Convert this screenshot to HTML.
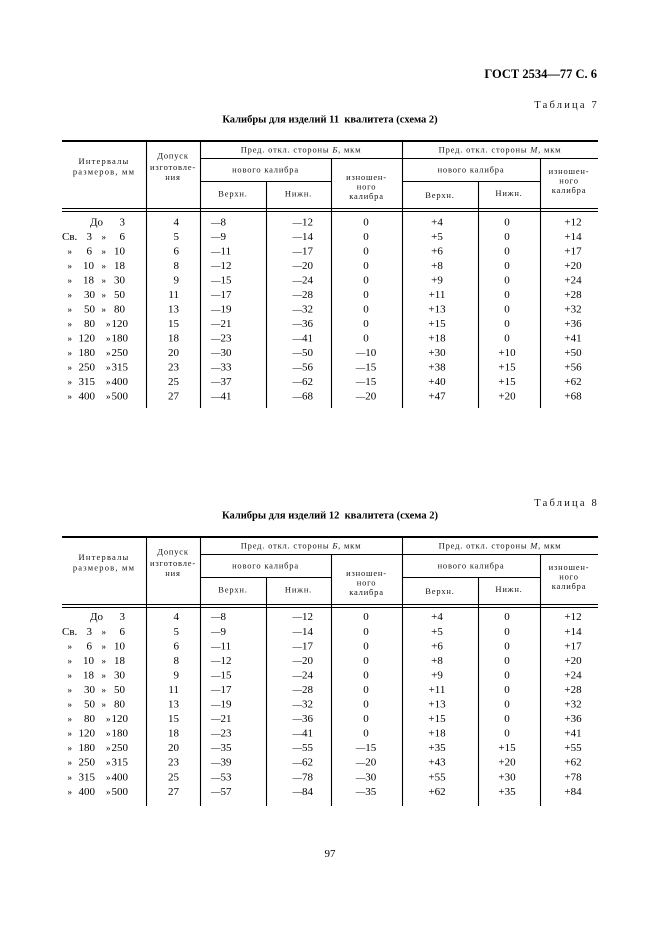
<!DOCTYPE html>
<html><head><meta charset="utf-8">
<style>
html,body{margin:0;padding:0;background:#fff;}
svg{display:block;}
.b text{font-family:"Liberation Serif",serif;font-size:11px;fill:#000;}
.e{text-anchor:end;}
.m{text-anchor:middle;}
.r{font-size:9px !important;}
.d{font-size:9.5px;}
.h{font-family:"Liberation Serif",serif;font-size:8.5px;letter-spacing:0.8px;fill:#111;text-anchor:middle;}
.hw{letter-spacing:1.2px;}
.t{font-family:"Liberation Serif",serif;font-weight:bold;fill:#000;}
.tb{font-family:"Liberation Serif",serif;font-size:10.5px;letter-spacing:2.2px;fill:#111;text-anchor:end;}
.ln{stroke:#000;fill:none;}
</style></head>
<body>
<svg width="661" height="936" viewBox="0 0 661 936" xmlns="http://www.w3.org/2000/svg">
<rect width="661" height="936" fill="#fff"/>

<text class="t" x="597" y="78" font-size="12.5" text-anchor="end">ГОСТ 2534—77 С. 6</text>

<!-- TABLE 7 -->
<text class="tb" x="599" y="108">Таблица 7</text>
<text class="t" x="330" y="122.5" font-size="10.5" text-anchor="middle" xml:space="preserve">Калибры для изделий 11  квалитета (схема 2)</text>

<path class="ln" d="M62 141H598" stroke-width="2"/>
<path class="ln" d="M200 158.5H598M200 181.5H331M402 181.5H540M62 208.5H598M62 211.5H598" stroke-width="1"/>
<path class="ln" d="M146.5 141V408M200.5 141V408M402.5 141V408M331.5 158V408M540.5 158V408M266.5 181V408M478.5 181V408" stroke-width="1.1"/>

<text class="h hw" x="104" y="164">Интервалы</text>
<text class="h hw" x="104" y="174.5">размеров, мм</text>
<text class="h" x="173" y="158.5">Допуск</text>
<text class="h" x="173" y="170">изготовле-</text>
<text class="h" x="173" y="180">ния</text>
<text class="h" x="301" y="152.5">Пред. откл. стороны <tspan font-style="italic">Б</tspan>, мкм</text>
<text class="h" x="265.5" y="172.5">нового калибра</text>
<text class="h" x="233" y="196.5">Верхн.</text>
<text class="h" x="298.5" y="196.5">Нижн.</text>
<text class="h" x="366.5" y="180">изношен-</text>
<text class="h" x="366.5" y="189.5">ного</text>
<text class="h" x="366.5" y="199">калибра</text>
<text class="h" x="500" y="152.5">Пред. откл. стороны <tspan font-style="italic">М</tspan>, мкм</text>
<text class="h" x="471" y="172.5">нового калибра</text>
<text class="h" x="440" y="198">Верхн.</text>
<text class="h" x="509" y="196">Нижн.</text>
<text class="h" x="569" y="174">изношен-</text>
<text class="h" x="569" y="183.5">ного</text>
<text class="h" x="569" y="193">калибра</text>

<g class="b">
<g transform="translate(0,225.7)"><text x="90">До</text><text class="e" x="125">3</text><text class="e" x="179">4</text><text x="211"><tspan class="d">—</tspan>8</text><text class="e" x="313"><tspan class="d">—</tspan>12</text><text class="m" x="366">0</text><text class="m" x="437">+4</text><text class="m" x="507">0</text><text class="m" x="573">+12</text></g>
<g transform="translate(0,240.2)"><text x="62">Св.</text><text class="e" x="92">3</text><text class="r" x="101.5">»</text><text class="e" x="125">6</text><text class="e" x="179">5</text><text x="211"><tspan class="d">—</tspan>9</text><text class="e" x="313"><tspan class="d">—</tspan>14</text><text class="m" x="366">0</text><text class="m" x="437">+5</text><text class="m" x="507">0</text><text class="m" x="573">+14</text></g>
<g transform="translate(0,254.7)"><text class="r" x="67.5">»</text><text class="e" x="92">6</text><text class="r" x="101.5">»</text><text class="e" x="125">10</text><text class="e" x="179">6</text><text x="211"><tspan class="d">—</tspan>11</text><text class="e" x="313"><tspan class="d">—</tspan>17</text><text class="m" x="366">0</text><text class="m" x="437">+6</text><text class="m" x="507">0</text><text class="m" x="573">+17</text></g>
<g transform="translate(0,269.2)"><text class="r" x="67.5">»</text><text class="e" x="94">10</text><text class="r" x="101.5">»</text><text class="e" x="125">18</text><text class="e" x="179">8</text><text x="211"><tspan class="d">—</tspan>12</text><text class="e" x="313"><tspan class="d">—</tspan>20</text><text class="m" x="366">0</text><text class="m" x="437">+8</text><text class="m" x="507">0</text><text class="m" x="573">+20</text></g>
<g transform="translate(0,283.7)"><text class="r" x="67.5">»</text><text class="e" x="94">18</text><text class="r" x="101.5">»</text><text class="e" x="125">30</text><text class="e" x="179">9</text><text x="211"><tspan class="d">—</tspan>15</text><text class="e" x="313"><tspan class="d">—</tspan>24</text><text class="m" x="366">0</text><text class="m" x="437">+9</text><text class="m" x="507">0</text><text class="m" x="573">+24</text></g>
<g transform="translate(0,298.2)"><text class="r" x="67.5">»</text><text class="e" x="95">30</text><text class="r" x="101.5">»</text><text class="e" x="125">50</text><text class="e" x="179">11</text><text x="211"><tspan class="d">—</tspan>17</text><text class="e" x="313"><tspan class="d">—</tspan>28</text><text class="m" x="366">0</text><text class="m" x="437">+11</text><text class="m" x="507">0</text><text class="m" x="573">+28</text></g>
<g transform="translate(0,312.7)"><text class="r" x="67.5">»</text><text class="e" x="95">50</text><text class="r" x="101.5">»</text><text class="e" x="125">80</text><text class="e" x="179">13</text><text x="211"><tspan class="d">—</tspan>19</text><text class="e" x="313"><tspan class="d">—</tspan>32</text><text class="m" x="366">0</text><text class="m" x="437">+13</text><text class="m" x="507">0</text><text class="m" x="573">+32</text></g>
<g transform="translate(0,327.2)"><text class="r" x="67.5">»</text><text class="e" x="95">80</text><text class="r" x="106">»</text><text class="e" x="128">120</text><text class="e" x="179">15</text><text x="211"><tspan class="d">—</tspan>21</text><text class="e" x="313"><tspan class="d">—</tspan>36</text><text class="m" x="366">0</text><text class="m" x="437">+15</text><text class="m" x="507">0</text><text class="m" x="573">+36</text></g>
<g transform="translate(0,341.7)"><text class="r" x="67.5">»</text><text class="e" x="95">120</text><text class="r" x="106">»</text><text class="e" x="128">180</text><text class="e" x="179">18</text><text x="211"><tspan class="d">—</tspan>23</text><text class="e" x="313"><tspan class="d">—</tspan>41</text><text class="m" x="366">0</text><text class="m" x="437">+18</text><text class="m" x="507">0</text><text class="m" x="573">+41</text></g>
<g transform="translate(0,356.2)"><text class="r" x="67.5">»</text><text class="e" x="95">180</text><text class="r" x="106">»</text><text class="e" x="128">250</text><text class="e" x="179">20</text><text x="211"><tspan class="d">—</tspan>30</text><text class="e" x="313"><tspan class="d">—</tspan>50</text><text class="m" x="366"><tspan class="d">—</tspan>10</text><text class="m" x="437">+30</text><text class="m" x="507">+10</text><text class="m" x="573">+50</text></g>
<g transform="translate(0,370.7)"><text class="r" x="67.5">»</text><text class="e" x="95">250</text><text class="r" x="106">»</text><text class="e" x="128">315</text><text class="e" x="179">23</text><text x="211"><tspan class="d">—</tspan>33</text><text class="e" x="313"><tspan class="d">—</tspan>56</text><text class="m" x="366"><tspan class="d">—</tspan>15</text><text class="m" x="437">+38</text><text class="m" x="507">+15</text><text class="m" x="573">+56</text></g>
<g transform="translate(0,385.2)"><text class="r" x="67.5">»</text><text class="e" x="95">315</text><text class="r" x="106">»</text><text class="e" x="128">400</text><text class="e" x="179">25</text><text x="211"><tspan class="d">—</tspan>37</text><text class="e" x="313"><tspan class="d">—</tspan>62</text><text class="m" x="366"><tspan class="d">—</tspan>15</text><text class="m" x="437">+40</text><text class="m" x="507">+15</text><text class="m" x="573">+62</text></g>
<g transform="translate(0,399.7)"><text class="r" x="67.5">»</text><text class="e" x="95">400</text><text class="r" x="106">»</text><text class="e" x="128">500</text><text class="e" x="179">27</text><text x="211"><tspan class="d">—</tspan>41</text><text class="e" x="313"><tspan class="d">—</tspan>68</text><text class="m" x="366"><tspan class="d">—</tspan>20</text><text class="m" x="437">+47</text><text class="m" x="507">+20</text><text class="m" x="573">+68</text></g>
</g>

<!-- TABLE 8 -->
<text class="tb" x="599" y="506">Таблица 8</text>
<text class="t" x="330" y="518.5" font-size="10.5" text-anchor="middle" xml:space="preserve">Калибры для изделий 12  квалитета (схема 2)</text>

<path class="ln" d="M62 537H598" stroke-width="2"/>
<path class="ln" d="M200 554.5H598M200 577.5H331M402 577.5H540M62 604.5H598M62 607.5H598" stroke-width="1"/>
<path class="ln" d="M146.5 537V806M200.5 537V806M402.5 537V806M331.5 554V806M540.5 554V806M266.5 577V806M478.5 577V806" stroke-width="1.1"/>

<text class="h hw" x="104" y="560">Интервалы</text>
<text class="h hw" x="104" y="570.5">размеров, мм</text>
<text class="h" x="173" y="554.5">Допуск</text>
<text class="h" x="173" y="566">изготовле-</text>
<text class="h" x="173" y="576">ния</text>
<text class="h" x="301" y="548.5">Пред. откл. стороны <tspan font-style="italic">Б</tspan>, мкм</text>
<text class="h" x="265.5" y="568.5">нового калибра</text>
<text class="h" x="233" y="592.5">Верхн.</text>
<text class="h" x="298.5" y="592.5">Нижн.</text>
<text class="h" x="366.5" y="576">изношен-</text>
<text class="h" x="366.5" y="585.5">ного</text>
<text class="h" x="366.5" y="595">калибра</text>
<text class="h" x="500" y="548.5">Пред. откл. стороны <tspan font-style="italic">М</tspan>, мкм</text>
<text class="h" x="471" y="568.5">нового калибра</text>
<text class="h" x="440" y="594">Верхн.</text>
<text class="h" x="509" y="592">Нижн.</text>
<text class="h" x="569" y="570">изношен-</text>
<text class="h" x="569" y="579.5">ного</text>
<text class="h" x="569" y="589">калибра</text>

<g class="b">
<g transform="translate(0,620.2)"><text x="90">До</text><text class="e" x="125">3</text><text class="e" x="179">4</text><text x="211"><tspan class="d">—</tspan>8</text><text class="e" x="313"><tspan class="d">—</tspan>12</text><text class="m" x="366">0</text><text class="m" x="437">+4</text><text class="m" x="507">0</text><text class="m" x="573">+12</text></g>
<g transform="translate(0,634.75)"><text x="62">Св.</text><text class="e" x="92">3</text><text class="r" x="101.5">»</text><text class="e" x="125">6</text><text class="e" x="179">5</text><text x="211"><tspan class="d">—</tspan>9</text><text class="e" x="313"><tspan class="d">—</tspan>14</text><text class="m" x="366">0</text><text class="m" x="437">+5</text><text class="m" x="507">0</text><text class="m" x="573">+14</text></g>
<g transform="translate(0,649.3)"><text class="r" x="67.5">»</text><text class="e" x="92">6</text><text class="r" x="101.5">»</text><text class="e" x="125">10</text><text class="e" x="179">6</text><text x="211"><tspan class="d">—</tspan>11</text><text class="e" x="313"><tspan class="d">—</tspan>17</text><text class="m" x="366">0</text><text class="m" x="437">+6</text><text class="m" x="507">0</text><text class="m" x="573">+17</text></g>
<g transform="translate(0,663.85)"><text class="r" x="67.5">»</text><text class="e" x="94">10</text><text class="r" x="101.5">»</text><text class="e" x="125">18</text><text class="e" x="179">8</text><text x="211"><tspan class="d">—</tspan>12</text><text class="e" x="313"><tspan class="d">—</tspan>20</text><text class="m" x="366">0</text><text class="m" x="437">+8</text><text class="m" x="507">0</text><text class="m" x="573">+20</text></g>
<g transform="translate(0,678.4)"><text class="r" x="67.5">»</text><text class="e" x="94">18</text><text class="r" x="101.5">»</text><text class="e" x="125">30</text><text class="e" x="179">9</text><text x="211"><tspan class="d">—</tspan>15</text><text class="e" x="313"><tspan class="d">—</tspan>24</text><text class="m" x="366">0</text><text class="m" x="437">+9</text><text class="m" x="507">0</text><text class="m" x="573">+24</text></g>
<g transform="translate(0,692.95)"><text class="r" x="67.5">»</text><text class="e" x="95">30</text><text class="r" x="101.5">»</text><text class="e" x="125">50</text><text class="e" x="179">11</text><text x="211"><tspan class="d">—</tspan>17</text><text class="e" x="313"><tspan class="d">—</tspan>28</text><text class="m" x="366">0</text><text class="m" x="437">+11</text><text class="m" x="507">0</text><text class="m" x="573">+28</text></g>
<g transform="translate(0,707.5)"><text class="r" x="67.5">»</text><text class="e" x="95">50</text><text class="r" x="101.5">»</text><text class="e" x="125">80</text><text class="e" x="179">13</text><text x="211"><tspan class="d">—</tspan>19</text><text class="e" x="313"><tspan class="d">—</tspan>32</text><text class="m" x="366">0</text><text class="m" x="437">+13</text><text class="m" x="507">0</text><text class="m" x="573">+32</text></g>
<g transform="translate(0,722.05)"><text class="r" x="67.5">»</text><text class="e" x="95">80</text><text class="r" x="106">»</text><text class="e" x="128">120</text><text class="e" x="179">15</text><text x="211"><tspan class="d">—</tspan>21</text><text class="e" x="313"><tspan class="d">—</tspan>36</text><text class="m" x="366">0</text><text class="m" x="437">+15</text><text class="m" x="507">0</text><text class="m" x="573">+36</text></g>
<g transform="translate(0,736.6)"><text class="r" x="67.5">»</text><text class="e" x="95">120</text><text class="r" x="106">»</text><text class="e" x="128">180</text><text class="e" x="179">18</text><text x="211"><tspan class="d">—</tspan>23</text><text class="e" x="313"><tspan class="d">—</tspan>41</text><text class="m" x="366">0</text><text class="m" x="437">+18</text><text class="m" x="507">0</text><text class="m" x="573">+41</text></g>
<g transform="translate(0,751.15)"><text class="r" x="67.5">»</text><text class="e" x="95">180</text><text class="r" x="106">»</text><text class="e" x="128">250</text><text class="e" x="179">20</text><text x="211"><tspan class="d">—</tspan>35</text><text class="e" x="313"><tspan class="d">—</tspan>55</text><text class="m" x="366"><tspan class="d">—</tspan>15</text><text class="m" x="437">+35</text><text class="m" x="507">+15</text><text class="m" x="573">+55</text></g>
<g transform="translate(0,765.7)"><text class="r" x="67.5">»</text><text class="e" x="95">250</text><text class="r" x="106">»</text><text class="e" x="128">315</text><text class="e" x="179">23</text><text x="211"><tspan class="d">—</tspan>39</text><text class="e" x="313"><tspan class="d">—</tspan>62</text><text class="m" x="366"><tspan class="d">—</tspan>20</text><text class="m" x="437">+43</text><text class="m" x="507">+20</text><text class="m" x="573">+62</text></g>
<g transform="translate(0,780.25)"><text class="r" x="67.5">»</text><text class="e" x="95">315</text><text class="r" x="106">»</text><text class="e" x="128">400</text><text class="e" x="179">25</text><text x="211"><tspan class="d">—</tspan>53</text><text class="e" x="313"><tspan class="d">—</tspan>78</text><text class="m" x="366"><tspan class="d">—</tspan>30</text><text class="m" x="437">+55</text><text class="m" x="507">+30</text><text class="m" x="573">+78</text></g>
<g transform="translate(0,794.8)"><text class="r" x="67.5">»</text><text class="e" x="95">400</text><text class="r" x="106">»</text><text class="e" x="128">500</text><text class="e" x="179">27</text><text x="211"><tspan class="d">—</tspan>57</text><text class="e" x="313"><tspan class="d">—</tspan>84</text><text class="m" x="366"><tspan class="d">—</tspan>35</text><text class="m" x="437">+62</text><text class="m" x="507">+35</text><text class="m" x="573">+84</text></g>
</g>

<text x="330" y="857" font-family="Liberation Serif, serif" font-size="11" fill="#000" text-anchor="middle">97</text>
</svg>
</body></html>
